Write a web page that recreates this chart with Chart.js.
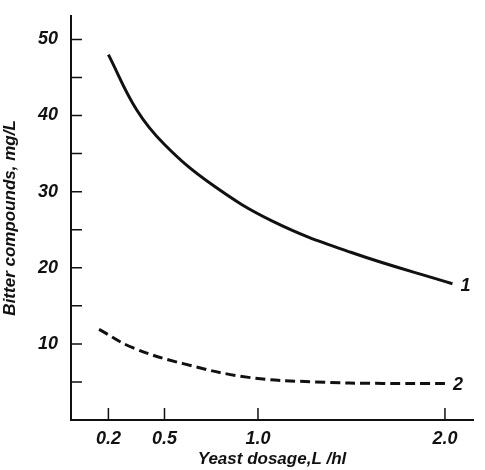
<!DOCTYPE html>
<html>
<head>
<meta charset="utf-8">
<script src="https://cdn.jsdelivr.net/npm/chart.js"></script>
<style>
  body { margin: 0; background: #fff; }
  #wrap { width: 485px; height: 470px; }
</style>
</head>
<body>
<div id="wrap"><canvas id="chart"></canvas></div>
<script>
// yeast dosage (L/hl) vs bitter compounds (mg/L)
const dose1 = [0.2, 0.35, 0.5, 0.75, 1.08, 1.5, 2.04];
const bitter1 = [48.0, 40.8, 36.2, 31.0, 26.1, 22.0, 17.9];
const dose2 = [0.15, 0.33, 0.6, 0.95, 1.31, 1.67, 2.0];
const bitter2 = [11.9, 9.5, 7.4, 5.6, 5.0, 4.8, 4.8];
const curveNames = ["1", "2"];
const xTicks = [0.2, 0.5, 1.0, 2.0];
const yTicks = [10, 20, 30, 40, 50];
const yMinor = [5, 15, 25, 35, 45];

const ink = "#111";
const family = "'Liberation Sans', 'DejaVu Sans', sans-serif";
const font = { family: family, style: "italic", weight: "bold", size: 18 };

function pts(xs, ys) {
  return xs.map((x, i) => ({ x: x, y: ys[i] }));
}

// inward tick marks and the curve numbers
const marks = {
  id: "marks",
  afterDraw(chart) {
    const ctx = chart.ctx;
    const xs = chart.scales.x, ys = chart.scales.y;
    const a = chart.chartArea;
    ctx.save();
    ctx.strokeStyle = ink;
    ctx.lineWidth = 1.5;
    ctx.beginPath();
    yTicks.concat(yMinor).forEach(v => {
      const py = ys.getPixelForValue(v);
      ctx.moveTo(a.left, py);
      ctx.lineTo(a.left + 11, py);
    });
    xTicks.forEach(v => {
      const px = xs.getPixelForValue(v);
      ctx.moveTo(px, a.bottom);
      ctx.lineTo(px, a.bottom - 12);
    });
    ctx.stroke();
    ctx.fillStyle = ink;
    ctx.font = "italic bold 18px " + family;
    ctx.textBaseline = "middle";
    chart.data.datasets.forEach((ds, i) => {
      const last = ds.data[ds.data.length - 1];
      ctx.fillText(curveNames[i], xs.getPixelForValue(last.x) + 8, ys.getPixelForValue(last.y) + 2);
    });
    ctx.restore();
  }
};

new Chart(document.getElementById("chart"), {
  type: "scatter",
  data: {
    datasets: [
      {
        data: pts(dose1, bitter1),
        showLine: true,
        borderColor: ink,
        borderWidth: 3,
        pointRadius: 0,
        tension: 0.4
      },
      {
        data: pts(dose2, bitter2),
        showLine: true,
        borderColor: ink,
        borderWidth: 3,
        borderDash: [10, 5],
        pointRadius: 0,
        tension: 0.4
      }
    ]
  },
  options: {
    responsive: true,
    maintainAspectRatio: false,
    animation: false,
    layout: { padding: { top: 3, right: 12, left: 0, bottom: 0 } },
    plugins: { legend: { display: false }, tooltip: { enabled: false } },
    scales: {
      x: {
        type: "linear",
        min: 0,
        max: 2.15,
        afterBuildTicks: s => { s.ticks = xTicks.map(v => ({ value: v })); },
        afterFit: s => { s.height = 50; },
        border: { display: true, color: ink, width: 2 },
        grid: { display: false },
        ticks: {
          color: ink,
          font: font,
          padding: 0,
          maxRotation: 0,
          callback: v => v.toFixed(1)
        },
        title: {
          display: true,
          text: "Yeast dosage,L /hl",
          color: ink,
          font: { family: family, style: "italic", weight: "bold", size: 17 },
          padding: { top: 0, bottom: 0 }
        }
      },
      y: {
        min: 0,
        max: 53.1,
        afterBuildTicks: s => { s.ticks = yTicks.map(v => ({ value: v })); },
        afterFit: s => { s.width = 71; },
        border: { display: true, color: ink, width: 2 },
        grid: { display: false },
        ticks: { color: ink, font: font, padding: 5 },
        title: {
          display: true,
          text: "Bitter compounds, mg/L",
          color: ink,
          font: { family: family, style: "italic", weight: "bold", size: 17 },
          padding: { top: 0, bottom: 2 }
        }
      }
    }
  },
  plugins: [marks]
});
</script>
</body>
</html>
